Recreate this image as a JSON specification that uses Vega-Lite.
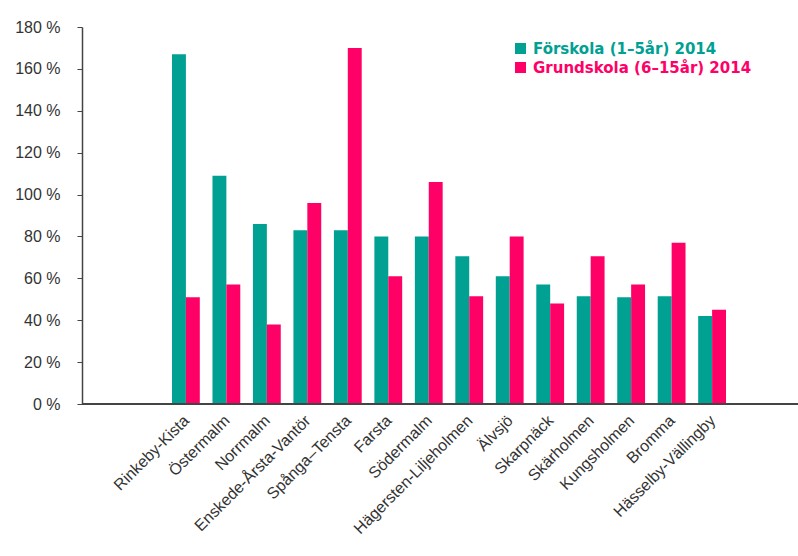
{
  "$schema": "https://vega.github.io/schema/vega-lite/v6.json",
  "width": 716,
  "height": 377,
  "autosize": {"type": "none"},
  "padding": {"left": 82, "top": 27, "right": 0, "bottom": 152},
  "background": "white",
  "data": {
    "values": [
      {"omrade": "Rinkeby-Kista", "skola": "Förskola (1–5år) 2014", "andel": 167},
      {"omrade": "Rinkeby-Kista", "skola": "Grundskola (6–15år) 2014", "andel": 51},
      {"omrade": "Östermalm", "skola": "Förskola (1–5år) 2014", "andel": 109},
      {"omrade": "Östermalm", "skola": "Grundskola (6–15år) 2014", "andel": 57},
      {"omrade": "Norrmalm", "skola": "Förskola (1–5år) 2014", "andel": 86},
      {"omrade": "Norrmalm", "skola": "Grundskola (6–15år) 2014", "andel": 38},
      {"omrade": "Enskede-Årsta-Vantör", "skola": "Förskola (1–5år) 2014", "andel": 83},
      {"omrade": "Enskede-Årsta-Vantör", "skola": "Grundskola (6–15år) 2014", "andel": 96},
      {"omrade": "Spånga–Tensta", "skola": "Förskola (1–5år) 2014", "andel": 83},
      {"omrade": "Spånga–Tensta", "skola": "Grundskola (6–15år) 2014", "andel": 170},
      {"omrade": "Farsta", "skola": "Förskola (1–5år) 2014", "andel": 80},
      {"omrade": "Farsta", "skola": "Grundskola (6–15år) 2014", "andel": 61},
      {"omrade": "Södermalm", "skola": "Förskola (1–5år) 2014", "andel": 80},
      {"omrade": "Södermalm", "skola": "Grundskola (6–15år) 2014", "andel": 106},
      {"omrade": "Hägersten-Liljeholmen", "skola": "Förskola (1–5år) 2014", "andel": 70.5},
      {"omrade": "Hägersten-Liljeholmen", "skola": "Grundskola (6–15år) 2014", "andel": 51.5},
      {"omrade": "Älvsjö", "skola": "Förskola (1–5år) 2014", "andel": 61},
      {"omrade": "Älvsjö", "skola": "Grundskola (6–15år) 2014", "andel": 80},
      {"omrade": "Skarpnäck", "skola": "Förskola (1–5år) 2014", "andel": 57},
      {"omrade": "Skarpnäck", "skola": "Grundskola (6–15år) 2014", "andel": 48},
      {"omrade": "Skärholmen", "skola": "Förskola (1–5år) 2014", "andel": 51.5},
      {"omrade": "Skärholmen", "skola": "Grundskola (6–15år) 2014", "andel": 70.5},
      {"omrade": "Kungsholmen", "skola": "Förskola (1–5år) 2014", "andel": 51},
      {"omrade": "Kungsholmen", "skola": "Grundskola (6–15år) 2014", "andel": 57},
      {"omrade": "Bromma", "skola": "Förskola (1–5år) 2014", "andel": 51.5},
      {"omrade": "Bromma", "skola": "Grundskola (6–15år) 2014", "andel": 77},
      {"omrade": "Hässelby-Vällingby", "skola": "Förskola (1–5år) 2014", "andel": 42},
      {"omrade": "Hässelby-Vällingby", "skola": "Grundskola (6–15år) 2014", "andel": 45}
    ]
  },
  "layer": [
    {
      "mark": {"type": "bar"},
      "encoding": {
        "x": {
          "field": "omrade",
          "type": "nominal",
          "sort": null,
          "scale": {"range": [90, 644], "paddingInner": 0.313, "paddingOuter": 0},
          "axis": {
            "title": null,
            "ticks": false,
            "domain": false,
            "labelAngle": -45,
            "labelFont": "Liberation Sans",
            "labelFontSize": 16,
            "labelColor": "#333333",
            "labelPadding": 8,
            "labelOffset": -5
          }
        },
        "xOffset": {"field": "skola", "type": "nominal", "sort": ["Förskola (1–5år) 2014", "Grundskola (6–15år) 2014"]},
        "y": {
          "field": "andel",
          "type": "quantitative",
          "scale": {"domain": [0, 180]},
          "axis": {
            "title": null,
            "grid": false,
            "values": [0, 20, 40, 60, 80, 100, 120, 140, 160, 180],
            "labelExpr": "datum.value + ' %'",
            "labelFont": "Liberation Sans",
            "labelFontSize": 16,
            "labelColor": "#333333",
            "labelPadding": 17,
            "tickSize": 5,
            "tickColor": "#444444",
            "domainColor": "#444444",
            "domainWidth": 1.5
          }
        },
        "color": {
          "field": "skola",
          "type": "nominal",
          "scale": {"domain": ["Förskola (1–5år) 2014", "Grundskola (6–15år) 2014"], "range": ["#00A092", "#FF0066"]},
          "legend": {
            "title": null,
            "orient": "none",
            "legendX": 431,
            "legendY": 14,
            "padding": 0,
            "symbolType": "square",
            "symbolSize": 121,
            "symbolStrokeWidth": 0,
            "symbolOpacity": 1,
            "labelFont": "DejaVu Sans",
            "labelFontWeight": "bold",
            "labelFontSize": 15,
            "labelOffset": 5,
            "rowPadding": 3,
            "labelLimit": 400,
            "encode": {"labels": {"update": {"fill": {"scale": "color", "field": "value"}}}}
          }
        }
      }
    },
    {
      "mark": {"type": "rule", "color": "#444444", "strokeWidth": 1.5},
      "encoding": {"y": {"datum": 0}}
    }
  ],
  "config": {"view": {"stroke": null}}
}
